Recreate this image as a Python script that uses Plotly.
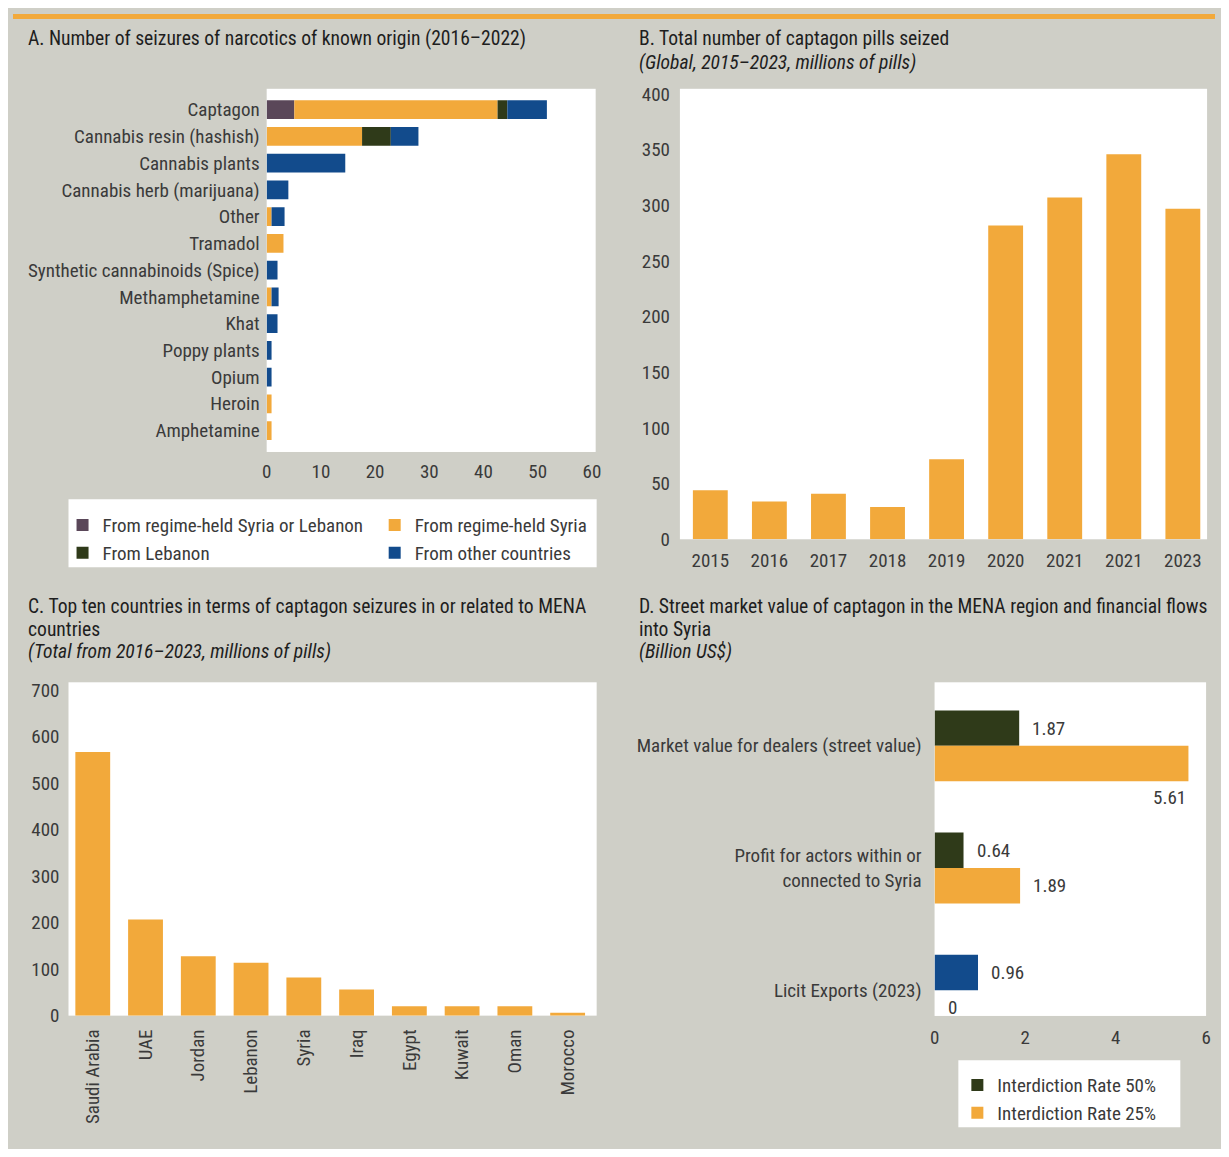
import plotly.graph_objects as go

# Page is 1229x1157; the browser keeps its default 8px body margin,
# so the figure itself is 16px smaller and every reference pixel p maps to p-8.
PAGE_W, PAGE_H = 1229, 1157
OFF = 8
W, H = PAGE_W - 2 * OFF, PAGE_H - 2 * OFF

FONT = "Liberation Sans Narrow, Arial Narrow, Roboto Condensed, DejaVu Sans Condensed, sans-serif"
TXT = "#3a3a3a"
TITLE = "#1e1e1e"
BG = "#cfcfc7"
ORANGE = "#f2a93b"
BLUE = "#124b8c"
DGREEN = "#2f3a19"
PURPLE = "#5a4759"

# ---------------- data ----------------
# Panel A
drugs = ["Captagon", "Cannabis resin (hashish)", "Cannabis plants", "Cannabis herb (marijuana)",
         "Other", "Tramadol", "Synthetic cannabinoids (Spice)", "Methamphetamine", "Khat",
         "Poppy plants", "Opium", "Heroin", "Amphetamine"]
from_regime_or_lebanon = [5.1, 0, 0, 0, 0, 0, 0, 0, 0, 0, 0, 0, 0]
from_regime_syria = [37.5, 17.6, 0, 0, 0.9, 3.1, 0, 0.9, 0, 0, 0, 0.9, 0.9]
from_lebanon = [1.8, 5.3, 0, 0, 0, 0, 0, 0, 0, 0, 0, 0, 0]
from_other = [7.3, 5.1, 14.5, 4.0, 2.4, 0, 2.0, 1.3, 2.0, 0.9, 0.9, 0, 0]
a_ticks = [0, 10, 20, 30, 40, 50, 60]

# Panel B
years = ["2015", "2016", "2017", "2018", "2019", "2020", "2021", "2021", "2023"]
pills = [44, 34, 41, 29, 72, 282, 307, 346, 297]
b_ticks = [0, 50, 100, 150, 200, 250, 300, 350, 400]

# Panel C
countries = ["Saudi Arabia", "UAE", "Jordan", "Lebanon", "Syria", "Iraq", "Egypt", "Kuwait", "Oman", "Morocco"]
country_pills = [567, 207, 128, 114, 82, 56, 20, 20, 20, 6]
c_ticks = [0, 100, 200, 300, 400, 500, 600, 700]

# Panel D
flows = ["Market value for dealers (street value)",
         "Profit for actors within or<br>connected to Syria",
         "Licit Exports (2023)"]
rate50 = [1.87, 0.64, 0.96]
rate25 = [5.61, 1.89, 0]
rate50_colors = [DGREEN, DGREEN, BLUE]
d_ticks = [0, 2, 4, 6]


def fx(p):
    return (p - OFF) / W


def fy(p):
    return 1 - (p - OFF) / H


fig = go.Figure()

# ---------------- Panel A (stacked horizontal) ----------------
series_a = [
    ("From regime-held Syria or Lebanon", from_regime_or_lebanon, PURPLE, "legend"),
    ("From regime-held Syria", from_regime_syria, ORANGE, "legend2"),
    ("From Lebanon", from_lebanon, DGREEN, "legend"),
    ("From other countries", from_other, BLUE, "legend2"),
]
base = [0] * len(drugs)
for name, vals, col, lg in series_a:
    fig.add_trace(go.Bar(
        y=drugs, x=vals, base=list(base), orientation="h", name=name,
        marker=dict(color=col, line=dict(width=0)), width=0.7,
        xaxis="x", yaxis="y", legend=lg, hoverinfo="skip"))
    base = [b + v for b, v in zip(base, vals)]

# ---------------- Panel B ----------------
xb = list(range(len(years)))
fig.add_trace(go.Bar(x=xb, y=pills, marker=dict(color=ORANGE, line=dict(width=0)), width=0.59,
                     xaxis="x2", yaxis="y2", showlegend=False, hoverinfo="skip"))

# ---------------- Panel C ----------------
fig.add_trace(go.Bar(x=countries, y=country_pills, marker=dict(color=ORANGE, line=dict(width=0)),
                     width=0.66, xaxis="x3", yaxis="y3", showlegend=False, hoverinfo="skip"))

# ---------------- Panel D ----------------
BW = 0.29
fig.add_trace(go.Bar(y=flows, x=rate50, orientation="h", name="Interdiction Rate 50%",
                     marker=dict(color=rate50_colors, line=dict(width=0)), width=BW, offset=-BW,
                     xaxis="x4", yaxis="y4", legend="legend3", hoverinfo="skip"))
fig.add_trace(go.Bar(y=flows, x=rate25, orientation="h", name="Interdiction Rate 25%",
                     marker=dict(color=ORANGE, line=dict(width=0)), width=BW, offset=0,
                     xaxis="x4", yaxis="y4", legend="legend3", hoverinfo="skip"))

annotations = []
d_range = [0, 6]
for i, cat in enumerate(flows):
    for vals, off in ((rate50, -BW / 2), (rate25, BW / 2)):
        v = vals[i]
        if v > d_range[1] - 0.6:
            annotations.append(dict(x=v, y=i + off, xref="x4", yref="y4", text=f"{v:g}",
                                    showarrow=False, xanchor="right", yanchor="middle", yshift=-34,
                                    font=dict(size=19, color=TXT, family=FONT)))
        else:
            annotations.append(dict(x=v, y=i + off, xref="x4", yref="y4", text=f"{v:g}",
                                    showarrow=False, xanchor="left", yanchor="middle", xshift=11,
                                    font=dict(size=19, color=TXT, family=FONT)))

# ---------------- titles ----------------
def title(xp, yp, text, italic=False):
    t = f"<i>{text}</i>" if italic else text
    annotations.append(dict(x=fx(xp), y=fy(yp), xref="paper", yref="paper", text=t,
                            showarrow=False, xanchor="left", yanchor="middle",
                            font=dict(size=19.6, color=TITLE, family=FONT)))

title(21, 33, "A. Number of seizures of narcotics of known origin (2016\u20132022)")
title(638, 33, "B. Total number of captagon pills seized")
title(638, 57, "(Global, 2015\u20132023, millions of pills)", True)
title(21, 610, "C. Top ten countries in terms of captagon seizures in or related to MENA")
title(21, 633, "countries")
title(21, 656, "(Total from 2016\u20132023, millions of pills)", True)
title(638, 610, "D. Street market value of captagon in the MENA region and financial flows")
title(638, 633, "into Syria")
title(638, 656, "(Billion US$)", True)

# ---------------- shapes (top rule, legend boxes) ----------------
shapes = [
    dict(type="rect", xref="paper", yref="paper", x0=0, x1=1, y0=fy(13), y1=1,
         fillcolor=ORANGE, line=dict(width=0), layer="below"),
    dict(type="rect", xref="paper", yref="paper", x0=fx(64), x1=fx(597), y0=fy(570), y1=fy(501),
         fillcolor="white", line=dict(width=0), layer="below"),
    dict(type="rect", xref="paper", yref="paper", x0=fx(962), x1=fx(1186), y0=fy(1139), y1=fy(1071),
         fillcolor="white", line=dict(width=0), layer="below"),
]

tickfont = dict(size=19, color=TXT, family=FONT)
common = dict(showgrid=False, zeroline=False, showline=False, ticks="", tickfont=tickfont, fixedrange=True)
legfont = dict(size=19, color=TXT, family=FONT)

fig.update_layout(
    width=W, height=H, autosize=False,
    margin=dict(l=0, r=0, t=0, b=0),
    paper_bgcolor=BG, plot_bgcolor="white",
    font=dict(family=FONT, color=TXT, size=19),
    barmode="overlay",
    xaxis=dict(domain=[fx(264), fx(596)], range=[0, 60.7], tickvals=a_ticks, anchor="y",
               ticklabelstandoff=6, **common),
    yaxis=dict(domain=[fy(453), fy(84)], type="category", categoryorder="array", categoryarray=drugs,
               range=[12.8, -0.78], anchor="x", ticklabelstandoff=6, **common),
    xaxis2=dict(domain=[fx(681), fx(1213)], range=[-0.515, 8.41], tickvals=xb, ticktext=years,
                anchor="y2", ticklabelstandoff=8, **common),
    yaxis2=dict(domain=[fy(541.7), fy(84)], range=[0, 404.7], tickvals=b_ticks, anchor="x2",
                ticklabelstandoff=9, **common),
    xaxis3=dict(domain=[fx(64), fx(597)], type="category", range=[-0.46, 9.55], tickangle=-90,
                anchor="y3", ticklabelstandoff=9, **common),
    yaxis3=dict(domain=[fy(1025.7), fy(687)], range=[0, 717], tickvals=c_ticks, anchor="x3",
                ticklabelstandoff=8, **common),
    xaxis4=dict(domain=[fx(938), fx(1212)], range=d_range, tickvals=d_ticks, anchor="y4",
                ticklabelstandoff=8, **common),
    yaxis4=dict(domain=[fy(1026), fy(687)], type="category", categoryorder="array", categoryarray=flows,
                range=[2.21, -0.52], anchor="x4", ticklabelstandoff=12, **common),
    legend=dict(x=fx(58), y=fy(508), xanchor="left", yanchor="top", bgcolor="rgba(0,0,0,0)",
                font=legfont, tracegroupgap=0, traceorder="normal", orientation="v"),
    legend2=dict(x=fx(373), y=fy(508), xanchor="left", yanchor="top", bgcolor="rgba(0,0,0,0)",
                 font=legfont, tracegroupgap=0, traceorder="normal", orientation="v"),
    legend3=dict(x=fx(961), y=fy(1077), xanchor="left", yanchor="top", bgcolor="rgba(0,0,0,0)",
                 font=legfont, tracegroupgap=0, traceorder="normal", orientation="v"),
    annotations=annotations,
    shapes=shapes,
)

fig.write_html("out.html", config={"displayModeBar": False, "staticPlot": True})
